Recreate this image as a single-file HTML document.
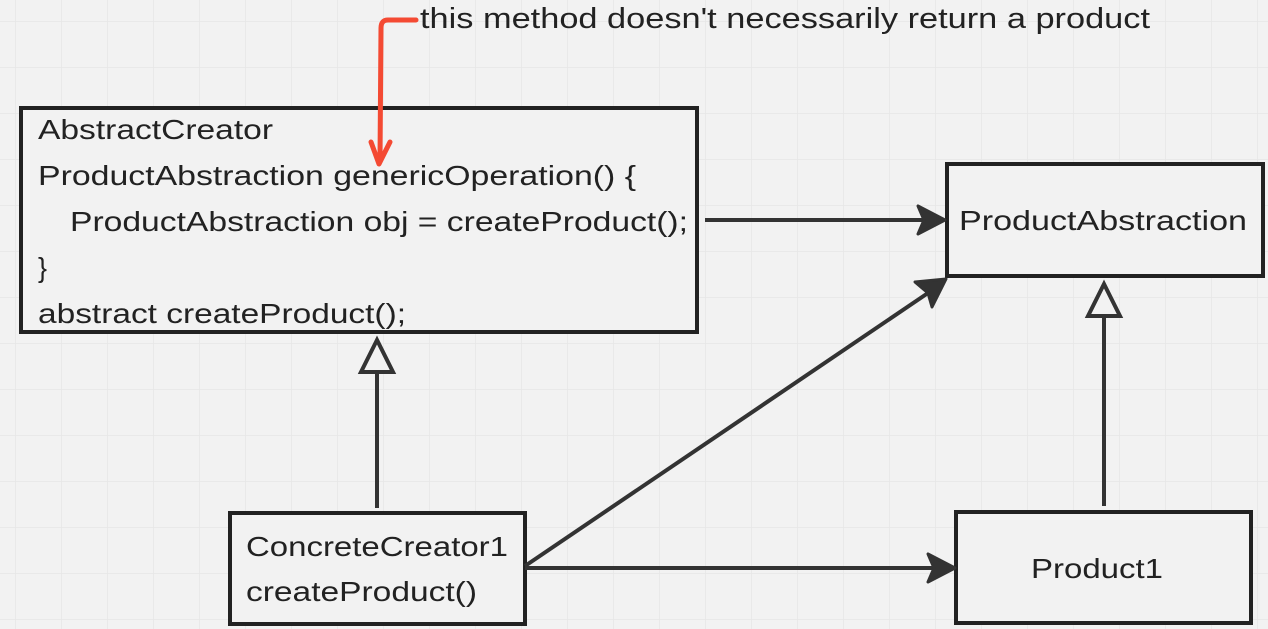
<!DOCTYPE html>
<html><head><meta charset="utf-8"><style>
html,body{margin:0;padding:0;background:#f2f2f2;}
svg{display:block;}
text{font-family:"Liberation Sans",sans-serif;font-size:28px;fill:#222;}
</style></head><body>
<svg width="1268" height="629" viewBox="0 0 1268 629" xmlns="http://www.w3.org/2000/svg">
<defs>
<pattern id="g" x="15" y="21" width="46" height="46" patternUnits="userSpaceOnUse">
<path d="M0 0V46M0 0H46" stroke="#e6e6e6" stroke-width="1.5" fill="none"/>
</pattern>
</defs>
<rect width="1268" height="629" fill="#f2f2f2"/>
<rect width="1268" height="629" fill="url(#g)"/>

<rect x="21" y="108" width="676" height="224" fill="#f2f2f2" stroke="#222" stroke-width="4"/>
<rect x="947" y="164" width="316" height="112" fill="#f2f2f2" stroke="#222" stroke-width="4"/>
<rect x="230" y="513" width="295" height="111" fill="#f2f2f2" stroke="#222" stroke-width="4"/>
<rect x="956" y="512" width="295" height="111" fill="#f2f2f2" stroke="#222" stroke-width="4"/>

<text x="38" y="139" textLength="235" lengthAdjust="spacingAndGlyphs">AbstractCreator</text>
<text x="38" y="185" textLength="598" lengthAdjust="spacingAndGlyphs">ProductAbstraction genericOperation() {</text>
<text x="70" y="231" textLength="618" lengthAdjust="spacingAndGlyphs">ProductAbstraction obj = createProduct();</text>
<text x="38" y="277" textLength="9" lengthAdjust="spacingAndGlyphs">}</text>
<text x="38" y="323" textLength="368" lengthAdjust="spacingAndGlyphs">abstract createProduct();</text>
<text x="959" y="230" textLength="288" lengthAdjust="spacingAndGlyphs">ProductAbstraction</text>
<text x="246" y="556" textLength="262" lengthAdjust="spacingAndGlyphs">ConcreteCreator1</text>
<text x="246" y="601" textLength="231" lengthAdjust="spacingAndGlyphs">createProduct()</text>
<text x="1031" y="578" textLength="132" lengthAdjust="spacingAndGlyphs">Product1</text>
<text x="420" y="28" style="font-size:29px" textLength="730" lengthAdjust="spacingAndGlyphs">this method doesn't necessarily return a product</text>

<g stroke="#333" stroke-width="4" fill="none">
<line x1="705" y1="220" x2="925" y2="220"/>
<line x1="525" y1="566" x2="928" y2="293"/>
<line x1="525" y1="568" x2="935" y2="568"/>
<line x1="377" y1="372" x2="377" y2="508"/>
<line x1="1104" y1="316" x2="1104" y2="506"/>
</g>
<g fill="#333">
<path d="M945 220 L918 206 L924 220 L918 234 Z" stroke="#333" stroke-width="3" stroke-linejoin="round"/>
<path d="M955 568 L928 554 L934 568 L928 582 Z" stroke="#333" stroke-width="3" stroke-linejoin="round"/>
<path d="M946 279 L915 282 L928 293 L932 307 Z" stroke="#333" stroke-width="3" stroke-linejoin="round"/>
</g>
<g fill="#f2f2f2" stroke="#333" stroke-width="4" stroke-linejoin="miter">
<path d="M377 340 L361 372 L393 372 Z"/>
<path d="M1104 284 L1088 316 L1120 316 Z"/>
</g>

<path d="M416 20 L388 20 Q381 20 381 28 L380 160" stroke="#f44a33" stroke-width="5" fill="none" stroke-linecap="round"/>
<path d="M371 142 L379 164 L390 142" stroke="#f44a33" stroke-width="5" fill="none" stroke-linecap="round" stroke-linejoin="round"/>
</svg>
</body></html>
